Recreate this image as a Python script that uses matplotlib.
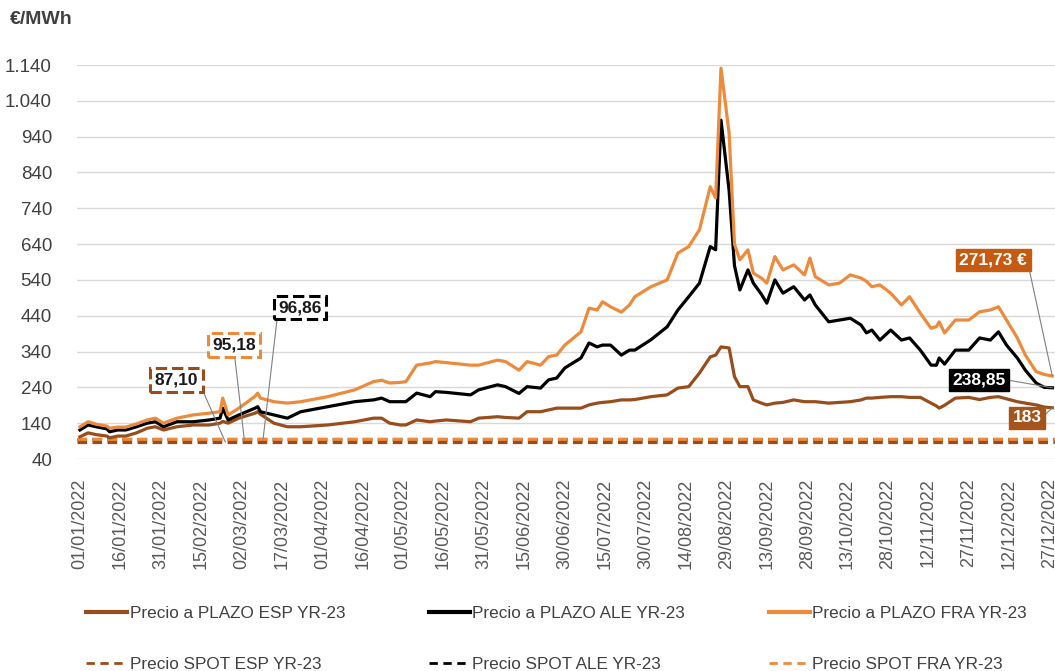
import numpy as np
import pandas as pd
import matplotlib
matplotlib.use('Agg')
import matplotlib.pyplot as plt
import matplotlib.dates as mdates
from matplotlib.lines import Line2D

# Forward prices YR-23 (€/MWh)
dates = pd.to_datetime([
    '2022-01-01', '2022-01-04', '2022-01-07', '2022-01-11', '2022-01-12', '2022-01-15',
    '2022-01-18', '2022-01-22', '2022-01-26', '2022-01-29', '2022-02-01', '2022-02-06',
    '2022-02-12', '2022-02-18', '2022-02-22', '2022-02-23', '2022-02-25', '2022-03-01',
    '2022-03-07', '2022-03-08', '2022-03-09', '2022-03-14', '2022-03-19', '2022-03-24',
    '2022-04-03', '2022-04-13', '2022-04-20', '2022-04-23', '2022-04-26', '2022-04-30',
    '2022-05-02', '2022-05-06', '2022-05-11', '2022-05-13', '2022-05-17', '2022-05-26',
    '2022-05-29', '2022-06-05', '2022-06-08', '2022-06-13', '2022-06-16', '2022-06-21',
    '2022-06-24', '2022-06-27', '2022-06-30', '2022-07-06', '2022-07-09', '2022-07-12',
    '2022-07-14', '2022-07-17', '2022-07-21', '2022-07-24', '2022-07-26', '2022-08-01',
    '2022-08-07', '2022-08-11', '2022-08-15', '2022-08-19', '2022-08-23', '2022-08-25',
    '2022-08-27', '2022-08-30', '2022-09-01', '2022-09-03', '2022-09-06', '2022-09-08',
    '2022-09-11', '2022-09-13', '2022-09-16', '2022-09-19', '2022-09-23', '2022-09-27',
    '2022-09-29', '2022-10-01', '2022-10-06', '2022-10-10', '2022-10-14', '2022-10-18',
    '2022-10-20', '2022-10-22', '2022-10-25', '2022-10-29', '2022-11-02', '2022-11-05',
    '2022-11-09', '2022-11-13', '2022-11-15', '2022-11-16', '2022-11-18', '2022-11-22',
    '2022-11-27', '2022-12-01', '2022-12-05', '2022-12-08', '2022-12-11', '2022-12-15',
    '2022-12-18', '2022-12-22', '2022-12-25', '2022-12-28',
])

plazo_esp = [
    102, 113, 108, 104, 99, 104,
    104, 113, 126, 130, 121, 130,
    135, 135, 140, 145, 140, 154,
    168, 172, 165, 140, 130, 130,
    135, 144, 154, 154, 140, 135,
    135, 149, 144, 146, 149, 144,
    154, 158, 156, 154, 172, 172,
    177, 182, 182, 182, 191, 196,
    198, 200, 205, 205, 206, 214,
    219, 238, 242, 280, 325, 330,
    353, 350, 270, 242, 242, 205,
    196, 191, 196, 198, 205, 200,
    200, 200, 196, 198, 200, 205,
    210, 210, 212, 214, 214, 212,
    212, 196, 188, 182, 190, 210,
    212, 206, 212, 214, 208, 200,
    196, 191, 185, 183,
]

plazo_ale = [
    121, 135, 130, 124, 116, 121,
    121, 130, 140, 144, 130, 144,
    144, 149, 154, 182, 149, 163,
    182, 186, 172, 163, 154, 172,
    186, 200, 205, 210, 200, 200,
    200, 224, 214, 228, 226, 219,
    233, 247, 242, 223, 242, 238,
    261, 266, 294, 322, 364, 353,
    358, 358, 330, 344, 344, 373,
    409, 456, 493, 531, 633, 624,
    986, 790, 580, 512, 568, 531,
    500, 475, 540, 503, 521, 484,
    498, 470, 423, 428, 433, 414,
    392, 400, 372, 400, 372, 378,
    344, 302, 302, 322, 305, 344,
    344, 378, 372, 395, 358, 322,
    288, 252, 240, 238.85,
]

plazo_fra = [
    130, 144, 137, 132, 126, 129,
    129, 138, 149, 154, 140, 154,
    163, 168, 172, 210, 163, 182,
    215, 224, 210, 200, 196, 200,
    214, 233, 256, 260, 252, 254,
    256, 302, 308, 312, 309, 302,
    302, 316, 312, 288, 312, 302,
    326, 330, 358, 395, 461, 456,
    479, 465, 450, 470, 493, 521,
    540, 615, 633, 680, 800, 769,
    1131, 950, 640, 596, 624, 559,
    545, 531, 605, 568, 582, 554,
    601, 549, 526, 531, 554, 545,
    536, 521, 526, 503, 470, 493,
    447, 405, 410, 423, 392, 428,
    428, 451, 456, 465, 428, 378,
    330, 284, 276, 271.73,
]

# Spot averages (constant dashed lines)
spot_esp = 87.10
spot_ale = 96.86
spot_fra = 95.18

labels = [
    'Precio a PLAZO ESP YR-23', 'Precio SPOT ESP YR-23',
    'Precio a PLAZO ALE YR-23', 'Precio SPOT ALE YR-23',
    'Precio a PLAZO FRA YR-23', 'Precio SPOT FRA YR-23',
]

yticks = np.arange(40, 1141, 100)
xticks = pd.date_range('2022-01-01', '2022-12-27', freq='15D')

C_ESP = '#9A4D1C'
C_ALE = '#000000'
C_FRA = '#EE8A3C'
GRID = '#D9D9D9'
TXT = '#595959'

plt.rcParams['font.family'] = ['Liberation Sans', 'DejaVu Sans']

fig = plt.figure(figsize=(10.55, 6.71), dpi=100)
ax = fig.add_axes([77 / 1055, 1 - 459 / 671, 978 / 1055, 394 / 671])

# spot lines
dash = (3.0, 1.7)
ax.axhline(spot_ale, color=C_ALE, lw=2.3, dashes=dash, zorder=2)
ax.axhline(spot_fra, color=C_FRA, lw=2.3, dashes=dash, zorder=2)
ax.axhline(spot_esp, color=C_ESP, lw=2.3, dashes=dash, zorder=2)

# forward lines
ax.plot(dates, plazo_esp, color=C_ESP, lw=2.3, zorder=3)
ax.plot(dates, plazo_ale, color=C_ALE, lw=2.3, zorder=3)
ax.plot(dates, plazo_fra, color=C_FRA, lw=2.3, zorder=3)

d0 = mdates.date2num(np.datetime64('2022-01-01'))
ax.set_xlim(d0 - 1.1, d0 + 362)
ax.set_ylim(40, 1140)

ax.set_yticks(yticks)
ax.set_yticklabels([f'{v:,}'.replace(',', '.') for v in yticks])
ax.set_xticks(xticks)
ax.xaxis.set_major_formatter(mdates.DateFormatter('%d/%m/%Y'))
ax.tick_params(axis='x', labelrotation=90, length=0, pad=14, labelsize=13, colors=TXT)
ax.tick_params(axis='y', length=0, pad=18, labelsize=13.5, colors='#404040')

ax.grid(axis='y', color=GRID, lw=1.0)
ax.grid(axis='x', visible=False)
ax.set_axisbelow(True)
for s in ax.spines.values():
    s.set_visible(False)

fig.text(10 / 1055, 1 - 20 / 671, '€/MWh', fontsize=14, fontweight='bold',
         color='#404040', ha='left', va='center')

# leader-line labels
lead = dict(arrowstyle='-', color='#808080', lw=0.8, shrinkA=0, shrinkB=0)

def dashed_box(ec):
    return dict(boxstyle='square,pad=0.25', fc='white', ec=ec, lw=2.2, ls='--')

def solid_box(fc):
    return dict(boxstyle='square,pad=0.2', fc=fc, ec=fc, lw=1)

spot_anns = [
    ('87,10', np.datetime64('2022-02-24'), spot_esp, (-49, 62), C_ESP, (1, 0.5)),
    ('95,18', np.datetime64('2022-03-03'), spot_fra, (-10, 94), C_FRA, (0.5, 0)),
    ('96,86', np.datetime64('2022-03-10'), spot_ale, (37, 131), C_ALE, (0, 0.5)),
]
for txt, dx, val, off, col, rp in spot_anns:
    ax.annotate(txt, xy=(dx, val), xytext=off, textcoords='offset pixels',
                ha='center', va='center', fontsize=12.5, fontweight='bold', color='#1a1a1a',
                bbox=dashed_box(col), arrowprops=dict(lead, relpos=rp), zorder=5)

last = dates[-1]
end_anns = [
    ('271,73 €', plazo_fra[-1], (-59, 116), '#C55A11'),
    ('238,85', plazo_ale[-1], (-73, 8), '#000000'),
    ('183', plazo_esp[-1], (-25, -10), '#A5541C'),
]
for txt, val, off, col in end_anns:
    ax.annotate(txt, xy=(last, val), xytext=off, textcoords='offset pixels',
                ha='center', va='center', fontsize=12.5, fontweight='bold', color='white',
                bbox=solid_box(col), arrowprops=dict(lead, relpos=(1, 0.5)),
                annotation_clip=False, zorder=5)

# legend
handles = [
    Line2D([], [], color=C_ESP, lw=3),
    Line2D([], [], color=C_ESP, lw=2, dashes=(3, 2)),
    Line2D([], [], color=C_ALE, lw=3),
    Line2D([], [], color=C_ALE, lw=2, dashes=(3, 2)),
    Line2D([], [], color=C_FRA, lw=3),
    Line2D([], [], color=C_FRA, lw=2, dashes=(3, 2)),
]
fig.legend(handles, labels, ncol=3, loc='upper left',
           bbox_to_anchor=(86 / 1055, 1 - 606 / 671), frameon=False,
           fontsize=12.3, handlelength=2.4, handletextpad=0.15,
           columnspacing=4.9, labelspacing=2.1, borderpad=0, borderaxespad=0,
           labelcolor='#404040')

fig.savefig('out.png', dpi=100)
